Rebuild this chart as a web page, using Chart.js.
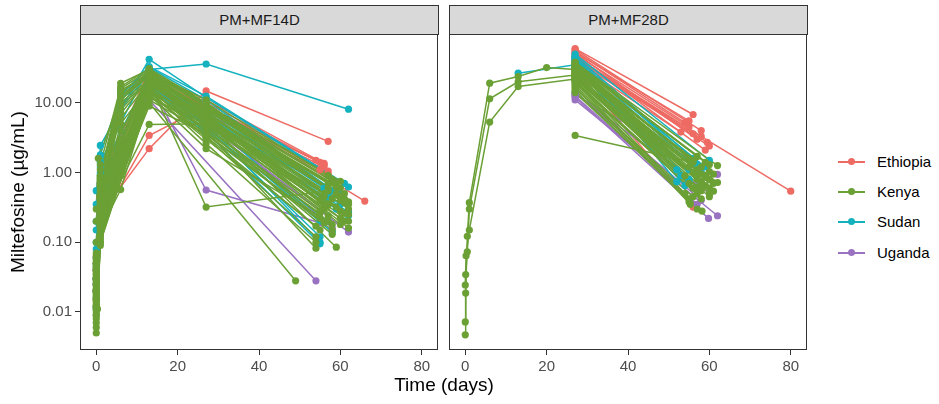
<!DOCTYPE html>
<html>
<head>
<meta charset="utf-8">
<script src="https://cdn.jsdelivr.net/npm/chart.js@4/dist/chart.umd.min.js"></script>
<style>
  body { margin: 0; background: #fff; font-family: "Liberation Sans", Arial, sans-serif; }
  #wrap { position: relative; width: 939px; height: 404px; overflow: hidden; }
  .strip { position: absolute; top: 5px; height: 30px; box-sizing: border-box; background: #d9d9d9;
           border: 1px solid #333; font-size: 15px; color: #1a1a1a; text-align: center; line-height: 28px; }
  .ttl { position: absolute; font-size: 19px; color: #000; white-space: nowrap; }
  .leg { position: absolute; left: 838px; height: 20px; font-size: 15px; color: #000; }
  .leg .ln { position: absolute; left: 0; top: 9px; width: 27px; height: 1.5px; }
  .leg .dt { position: absolute; left: 10px; top: 6px; width: 7px; height: 7px; border-radius: 50%; }
  .leg .tx { position: absolute; left: 39px; top: 1px; }
  canvas { position: absolute; top: 0; }
</style>
</head>
<body>
<div id="wrap">
  <canvas id="c14" width="446" height="375" style="left:0px"></canvas>
  <canvas id="c28" width="374" height="375" style="left:441px"></canvas>
  <div class="strip" style="left:80px;width:359px">PM+MF14D</div>
  <div class="strip" style="left:449px;width:359px">PM+MF28D</div>
  <div class="ttl" style="left:444px;top:374px;transform:translateX(-50%)">Time (days)</div>
  <div class="ttl" style="left:18px;top:192px;transform:translate(-50%,-50%) rotate(-90deg)">Miltefosine (µg/mL)</div>
  <div id="legend"></div>
</div>
<script>
// axis ticks
const xTicks = [0, 20, 40, 60, 80];
const yTicks = [0.01, 0.1, 1, 10];
const yTickLabels = ['0.01', '0.10', '1.00', '10.00'];
const countries = ['Ethiopia', 'Kenya', 'Sudan', 'Uganda'];

// each patient: [day, concentration µg/mL]
// --- PM+MF14D ---
const mf14Ethiopia = [
  [[0,0.02],[1,0.25],[13,2.2],[27,14.8],[57,2.8]],
  [[0,0.015],[1,0.2],[13,3.4],[27,9],[55,1.4]],
  [[0,0.05],[1,0.6],[13,28],[27,10],[56,1.3]],
  [[0,0.04],[1,0.5],[13,25],[27,8.5],[54,1.5]],
  [[0,0.03],[1,0.35],[13,20],[27,7],[55,1.1]],
  [[0,0.06],[1,0.7],[13,30],[27,9.5],[66,0.39]],
  [[0,0.02],[1,0.3],[13,24],[27,8],[57,1.05]],
  [[0,0.04],[1,0.45],[13,26],[27,7.5],[56,1.22]],
  [[0,0.03],[1,0.4],[13,27],[27,11],[56,1.35]],
  [[0,0.025],[1,0.3],[13,22],[27,9],[57,0.95]]
];
const mf14Kenya = [
  [[0,0.005],[0.3,0.011],[1,0.12],[13,10],[49,0.028]],
  [[0,0.01],[1,0.15],[6,0.57],[13,12],[27,5],[55,0.4]],
  [[0,0.02],[1,0.3],[6,19],[13,30],[27,9],[58,0.8]],
  [[0,0.03],[1,0.5],[6,15],[13,26],[27,8],[57,0.6]],
  [[0,0.012],[1,0.2],[13,4.9],[27,5],[56,0.5]],
  [[0,0.02],[1,0.25],[13,20],[27,0.32],[57,0.55]],
  [[0,0.3],[0.5,1.6],[6,12],[13,24],[27,7],[60,0.4]],
  [[0,0.008],[1,0.1],[13,15],[27,4],[54,0.082]],
  [[0,0.015],[1,0.18],[13,18],[27,5.5],[59,0.085]],
  [[0,0.04],[1,0.6],[6,10],[13,22],[27,6],[61,0.37]],
  [[0,0.025],[1,0.4],[13,28],[27,10],[62,0.38]],
  [[0,0.06],[1,0.8],[6,13],[13,25],[27,7],[60,0.18]],
  [[0,0.009],[1,0.13],[13,16],[27,3.5],[58,0.15]],
  [[0,0.018],[1,0.22],[13,21],[27,6],[62,0.16]],
  [[0,0.035],[1,0.45],[13,19],[27,5],[56,0.3]],
  [[0,0.05],[1,0.7],[6,6],[13,20],[27,4.5],[55,0.22]],
  [[0,0.014],[1,0.16],[13,14],[27,3],[54,0.17]],
  [[0,0.022],[1,0.28],[13,23],[27,8],[60,0.6]],
  [[0,0.045],[1,0.55],[13,27],[27,9],[61,0.5]],
  [[0,0.011],[1,0.14],[13,13],[27,2.2],[57,0.2]],
  [[0,0.07],[1,0.9],[6,16],[13,29],[27,8.5],[59,0.7]],
  [[0,0.03],[1,0.35],[13,21],[27,6.5],[62,0.25]],
  [[0,0.016],[1,0.2],[13,17],[27,4.2],[58,0.13]],
  [[0,0.1],[1,1.1],[6,3],[13,19],[27,5.2],[56,0.45]],
  [[0,0.028],[1,0.32],[13,24],[27,7.5],[60,0.28]],
  [[0,0.04],[1,0.42],[13,26],[27,6.8],[61,0.2]],
  [[0,0.013],[1,0.17],[6,1.5],[13,11],[27,3.8],[55,0.26]],
  [[0,0.2],[1,1.3],[6,17],[13,31],[27,10],[62,0.35]],
  [[0,0.02],[1,0.26],[13,22],[27,6.2],[59,0.32]],
  [[0,0.055],[1,0.65],[13,25],[27,7.8],[57,0.7]],
  [[0,0.006],[1,0.09],[6,2],[13,15],[27,5.8],[56,0.35]],
  [[0,0.017],[1,0.24],[6,4],[13,18],[27,6.4],[58,0.42]],
  [[0,0.033],[1,0.38],[6,7],[13,22],[27,7.2],[60,0.46]],
  [[0,0.009],[1,0.11],[13,12],[27,4.4],[55,0.28]],
  [[0,0.024],[1,0.3],[6,9],[13,21],[27,5.6],[57,0.24]],
  [[0,0.012],[1,0.19],[13,16],[27,3.2],[54,0.12]],
  [[0,0.05],[1,0.75],[6,12],[13,27],[27,8.8],[61,0.42]],
  [[0,0.019],[1,0.23],[13,19],[27,6.9],[59,0.5]],
  [[0,0.038],[1,0.48],[6,0.9],[13,9],[27,3.6],[56,0.19]],
  [[0,0.011],[1,0.13],[13,14],[27,4.8],[60,0.22]],
  [[0,0.026],[1,0.36],[6,14],[13,28],[27,11],[57,0.9]],
  [[0,0.043],[1,0.52],[13,23],[27,7.4],[62,0.3]],
  [[0,0.007],[1,0.1],[13,13],[27,3.3],[55,0.15]],
  [[0,0.029],[1,0.33],[6,5],[13,17],[27,4.6],[58,0.18]],
  [[0,0.064],[1,0.85],[13,26],[27,9.4],[60,0.75]],
  [[0,0.015],[1,0.21],[13,20],[27,5.9],[61,0.26]],
  [[0,0.021],[1,0.27],[6,11],[13,24],[27,8.2],[59,0.62]],
  [[0,0.035],[1,0.44],[13,15],[27,2.6],[54,0.1]],
  [[0,0.012],[1,0.16],[13,18],[27,6.1],[57,0.34]],
  [[0,0.048],[1,0.62],[6,8],[13,21],[27,6.6],[62,0.2]]
];
const mf14Sudan = [
  [[0,0.15],[1,2.45],[13,42],[27,12],[62,0.62]],
  [[0,0.05],[1,0.5],[6,9],[13,30],[27,36],[62,8.1]],
  [[0,0.55],[1,1.2],[6,8],[13,28],[27,6],[62,0.27]],
  [[0,0.02],[1,0.25],[13,22],[27,5],[55,0.1]],
  [[0,0.03],[1,0.3],[13,18],[27,4.5],[55,0.12]],
  [[0,0.08],[1,0.9],[6,14],[13,25],[27,7],[62,0.24]],
  [[0,0.012],[1,0.15],[13,20],[27,5.5],[60,0.5]],
  [[0,0.2],[1,1.4],[13,32],[27,11],[58,0.55]],
  [[0,0.04],[1,0.35],[13,17],[27,4],[57,0.2]],
  [[0,0.1],[1,1.0],[13,24],[27,6.5],[59,0.3]],
  [[0,0.03],[1,0.4],[6,11],[13,27],[27,9],[57,0.45]],
  [[0,0.016],[1,0.2],[13,19],[27,6],[55,0.2]],
  [[0,0.06],[1,0.7],[13,23],[27,7.5],[60,0.35]],
  [[0,0.025],[1,0.3],[6,4],[13,21],[27,8],[56,0.6]],
  [[0,0.011],[1,0.13],[13,16],[27,3.8],[55,0.095]],
  [[0,0.045],[1,0.5],[13,26],[27,10],[59,0.52]],
  [[0,0.35],[1,1.8],[6,13],[13,33],[27,12.5],[61,0.7]],
  [[0,0.02],[1,0.22],[13,20],[27,4.8],[58,0.14]]
];
const mf14Uganda = [
  [[0,0.03],[1,0.3],[13,20],[27,0.56],[55,0.19]],
  [[0,0.02],[1,0.25],[13,11],[54,0.028]],
  [[0,0.04],[1,0.4],[13,18],[27,5],[62,0.14]],
  [[0,0.025],[1,0.3],[13,22],[27,6],[58,0.16]]
];

// --- PM+MF28D ---
const mf28Ethiopia = [
  [[27,60],[56,6.8]], [[27,55],[54,5.2]], [[27,50],[55,4.5]], [[27,45],[58,3.3]],
  [[27,40],[59.5,2.7]], [[27,48],[59,2.1]], [[27,42],[80,0.54]], [[27,38],[53,3.8]],
  [[27,52],[57,3.0]], [[27,30],[56,0.32]], [[27,58],[58,4]], [[27,53],[55,5.5]],
  [[27,46],[56,3.6]], [[27,44],[60,2.4]]
];
const mf28Kenya = [
  [[0,0.0047],[0.1,0.0187],[0.5,0.122],[1,0.37],[6,19.1],[13,23.8],[20,32],[27,30],[55,1.2]],
  [[0,0.0072],[0.1,0.0345],[0.5,0.073],[1,0.30],[6,11.4],[13,20],[27,25],[57,0.9]],
  [[0,0.0244],[0.2,0.064],[1,0.15],[6,5.3],[13,17.1],[27,22],[58,0.7]],
  [[27,38],[62,1.26]], [[27,30],[60,1.03]], [[27,28],[60,0.79]], [[27,25],[61,0.54]],
  [[27,22],[57,0.61]], [[27,20],[55.3,0.35]], [[27,18],[58.2,0.28]], [[27,35],[58,1.2]],
  [[27,32],[56,1.5]], [[27,27],[59,0.9]], [[27,24],[55,0.7]], [[27,26],[57,0.8]],
  [[27,29],[60,0.6]], [[27,21],[54,0.5]], [[27,16],[56,0.45]], [[27,14],[55,0.42]],
  [[27,3.4],[56,1.4]], [[27,31],[61,0.95]], [[27,23],[58,0.55]],
  [[27,33],[57,1.1]], [[27,28],[59,0.85]], [[27,25],[58,0.75]], [[27,36],[60,1.3]],
  [[27,30],[56,1.0]], [[27,22],[60,0.45]], [[27,19],[57,0.5]], [[27,27],[61,0.7]],
  [[27,34],[55,1.6]], [[27,24],[59,0.65]], [[27,20],[56,0.6]], [[27,31],[58,0.95]],
  [[27,26],[54,0.9]], [[27,29],[62,0.72]], [[27,17],[55,0.38]], [[27,23],[60,0.5]],
  [[27,35],[59,1.4]], [[27,21],[58,0.42]], [[27,38],[57,1.7]], [[27,15],[57,0.3]]
];
const mf28Sudan = [
  [[13,26.6],[27,35],[55,1.1]],
  [[27,50],[60,1.5]], [[27,45],[52,0.74]], [[27,40],[55,0.8]], [[27,42],[58,1.0]],
  [[27,33],[54,0.65]], [[27,44],[57,1.3]], [[27,36],[53,0.9]], [[27,39],[59,1.2]],
  [[27,32],[55,0.75]], [[27,47],[56,1.6]], [[27,30],[58,0.7]], [[27,41],[52,1.1]]
];
const mf28Uganda = [
  [[27,13],[62,0.94]], [[27,11],[62,0.24]], [[27,12],[59.8,0.22]], [[27,14],[58,0.4]],
  [[27,12.5],[57,0.35]], [[27,13.5],[60,0.5]]
];

const colors = { Ethiopia: '#ee6b64', Kenya: '#6ba035', Sudan: '#14b2be', Uganda: '#9a72c2' };
const ink = '#333333';
const tickInk = '#4d4d4d';

function buildDatasets(groups) {
  // ggplot-like layering: all points above all lines; first dataset is drawn on top
  const drawOrder = ['Kenya', 'Sudan', 'Uganda', 'Ethiopia'];
  const pts = [], lines = [];
  drawOrder.forEach(name => {
    groups[name].forEach(p => {
      const d = p.map(([t, v]) => ({ x: t, y: v }));
      lines.push({ data: d, borderColor: colors[name], borderWidth: 1.5, pointRadius: 0, showLine: true });
      pts.push({ data: d, backgroundColor: colors[name], borderWidth: 0, pointRadius: 3.6, showLine: false });
    });
  });
  return pts.concat(lines);
}

const panelBorder = {
  id: 'panelBorder',
  afterDraw(chart) {
    const a = chart.chartArea, c = chart.ctx;
    c.save();
    c.strokeStyle = ink;
    c.lineWidth = 1;
    c.strokeRect(a.left + 0.5, a.top + 0.5, a.right - a.left - 1, a.bottom - a.top - 1);
    c.restore();
  }
};

function makePanel(id, groups, showY, padLeft) {
  return new Chart(document.getElementById(id), {
    type: 'line',
    data: { datasets: buildDatasets(groups) },
    plugins: [panelBorder],
    options: {
      responsive: false,
      animation: false,
      devicePixelRatio: 1,
      layout: { padding: { top: 34, left: padLeft, right: 8, bottom: 0 } },
      plugins: { legend: { display: false }, tooltip: { enabled: false } },
      elements: { line: { tension: 0 } },
      scales: {
        x: {
          type: 'linear', min: -4, max: 84,
          afterBuildTicks: s => { s.ticks = xTicks.map(v => ({ value: v })); },
          afterFit: s => { s.height = 25; },
          grid: { drawOnChartArea: false, tickLength: 5, tickColor: ink, tickWidth: 1 },
          border: { display: false },
          ticks: { color: tickInk, font: { size: 15, family: 'Liberation Sans, Arial' }, padding: 3, maxRotation: 0 }
        },
        y: {
          type: 'logarithmic', min: 0.00285, max: 97,
          display: showY,
          afterBuildTicks: s => { s.ticks = yTicks.map(v => ({ value: v })); },
          afterFit: s => { s.width = showY ? 80 : 0; },
          grid: { drawOnChartArea: false, tickLength: 5, tickColor: ink, tickWidth: 1 },
          border: { display: false },
          ticks: {
            color: tickInk, font: { size: 15, family: 'Liberation Sans, Arial' }, padding: 3,
            callback: v => { const i = yTicks.indexOf(v); return i >= 0 ? yTickLabels[i] : ''; }
          }
        }
      }
    }
  });
}

makePanel('c14', { Ethiopia: mf14Ethiopia, Kenya: mf14Kenya, Sudan: mf14Sudan, Uganda: mf14Uganda }, true, 0);
makePanel('c28', { Ethiopia: mf28Ethiopia, Kenya: mf28Kenya, Sudan: mf28Sudan, Uganda: mf28Uganda }, false, 8);

// legend
const legendTops = [152, 182, 212, 243];
const leg = document.getElementById('legend');
countries.forEach((name, i) => {
  const el = document.createElement('div');
  el.className = 'leg';
  el.style.top = legendTops[i] + 'px';
  el.innerHTML = '<span class="ln" style="background:' + colors[name] + '"></span>' +
    '<span class="dt" style="background:' + colors[name] + '"></span>' +
    '<span class="tx">' + name + '</span>';
  leg.appendChild(el);
});
</script>
</body>
</html>
